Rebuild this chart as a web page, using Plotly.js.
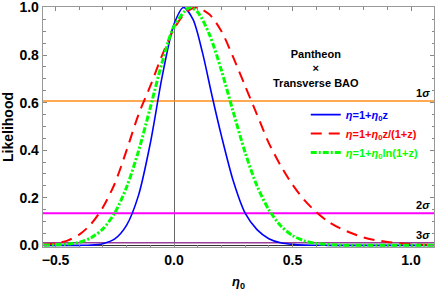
<!DOCTYPE html>
<html>
<head>
<meta charset="utf-8">
<script src="https://cdn.plot.ly/plotly-3.0.1.min.js"></script>
<style>html,body{margin:0;padding:0;background:#fff;}#chart{width:436px;height:291px;}</style>
</head>
<body>
<div id="chart"></div>
<script>
// eta_0 sample positions and likelihood values
var etaBlue = [-0.55,-0.40,-0.35,-0.30,-0.25,-0.20,-0.15,-0.10,-0.05,0.00,0.04,0.08,0.12,0.16,0.20,0.25,0.30,0.35,0.40,0.45,0.50,0.55,0.65,0.80,1.10];
var likBlue = [0.000,0.000,0.001,0.007,0.027,0.085,0.21,0.43,0.71,0.93,1.00,0.95,0.81,0.63,0.46,0.27,0.135,0.066,0.028,0.011,0.004,0.001,0.000,0.000,0.000];

var etaRed = [-0.55,-0.50,-0.45,-0.40,-0.35,-0.30,-0.25,-0.20,-0.15,-0.10,-0.05,0.00,0.05,0.095,0.15,0.20,0.25,0.30,0.35,0.40,0.45,0.50,0.55,0.60,0.65,0.70,0.80,0.90,1.00,1.10];
var likRed = [0.003,0.008,0.020,0.045,0.090,0.160,0.26,0.40,0.55,0.67,0.80,0.91,0.98,1.00,0.97,0.90,0.79,0.67,0.55,0.43,0.335,0.255,0.19,0.14,0.10,0.072,0.033,0.014,0.005,0.002];

var etaGreen = [-0.55,-0.50,-0.45,-0.40,-0.35,-0.30,-0.25,-0.20,-0.15,-0.10,-0.05,0.00,0.065,0.10,0.15,0.20,0.25,0.30,0.35,0.40,0.45,0.50,0.55,0.60,0.70,0.80,0.90,1.10];
var likGreen = [0.0005,0.002,0.005,0.013,0.032,0.069,0.137,0.245,0.396,0.58,0.77,0.92,1.00,0.98,0.885,0.735,0.56,0.39,0.25,0.15,0.082,0.041,0.019,0.008,0.001,0.000,0.000,0.000];

var seriesNames = ['<i>η</i>=1+<i>η</i><sub>0</sub>z', '<i>η</i>=1+<i>η</i><sub>0</sub>z/(1+z)', '<i>η</i>=1+<i>η</i><sub>0</sub>ln(1+z)'];

// confidence levels (likelihood ratio exp(-n^2/2))
var sigmaLevels = [0.6065, 0.1353, 0.0111];
var sigmaLabels = ['1<i>σ</i>', '2<i>σ</i>', '3<i>σ</i>'];
var etaSpan = [-0.6, 1.15];

var xTickVals = [-0.5, 0.0, 0.5, 1.0];
var xTickText = ['−0.5', '0.0', '0.5', '1.0'];
var yTickVals = [0.0, 0.2, 0.4, 0.6, 0.8, 1.0];
var yTickText = ['0.0', '0.2', '0.4', '0.6', '0.8', '1.0'];

var FONT = 'Liberation Sans, Arial, sans-serif';
var colBlue = '#0000ff', colRed = '#ff0000', colGreen = '#00ff00';
var sigmaColors = ['#ff8c1a', '#ff00ff', '#9b3d9b'];

var traces = [];
sigmaLevels.forEach(function (lv, i) {
  traces.push({x: etaSpan, y: [lv, lv], mode: 'lines', showlegend: false, hoverinfo: 'skip',
    line: {color: sigmaColors[i], width: i === 1 ? 2 : 1.6}});
});
traces.push({x: etaBlue, y: likBlue, mode: 'lines', name: '<span style="color:' + colBlue + '">' + seriesNames[0] + '</span>',
  line: {color: colBlue, width: 1.6, shape: 'spline', smoothing: 0.8}});
traces.push({x: etaRed, y: likRed, mode: 'lines', name: '<span style="color:' + colRed + '">' + seriesNames[1] + '</span>',
  line: {color: colRed, width: 2, dash: '11px,7px', shape: 'spline', smoothing: 0.8}});
traces.push({x: etaGreen, y: likGreen, mode: 'lines', name: '<span style="color:' + colGreen + '">' + seriesNames[2] + '</span>',
  line: {color: colGreen, width: 3, dash: '6px,2px,2px,2px', shape: 'spline', smoothing: 0.8}});

var annotations = [{
  xref: 'paper', yref: 'paper', x: 0.698, y: 0.836, xanchor: 'center', yanchor: 'top', showarrow: false,
  text: '<b>Pantheon<br>×<br>Transverse BAO</b>', align: 'center',
  font: {family: FONT, size: 11, color: '#000'}
}];
sigmaLevels.forEach(function (lv, i) {
  annotations.push({xref: 'paper', yref: 'y', x: 0.995, y: lv, xanchor: 'right', yanchor: 'bottom',
    showarrow: false, text: '<b>' + sigmaLabels[i] + '</b>', yshift: 0,
    font: {family: FONT, size: 11, color: '#000'}});
});

var layout = {
  width: 436, height: 291,
  margin: {l: 43, r: 2, t: 7, b: 44},
  paper_bgcolor: '#fff', plot_bgcolor: '#fff',
  font: {family: FONT, color: '#000'},
  showlegend: true,
  legend: {x: 0.672, y: 0.612, xanchor: 'left', yanchor: 'top', bgcolor: 'rgba(0,0,0,0)',
    font: {family: FONT, size: 11, weight: 'bold'}, tracegroupgap: 0, itemwidth: 30},
  xaxis: {
    range: [-0.553, 1.097], tickvals: xTickVals, ticktext: xTickText,
    ticks: 'inside', ticklen: 4, tickcolor: '#888', tickwidth: 1,
    minor: {ticks: 'inside', dtick: 0.1, ticklen: 2.5, tickcolor: '#888'},
    showline: true, linecolor: '#999', linewidth: 1.3, mirror: 'allticks',
    showgrid: false, zeroline: true, zerolinecolor: '#666', zerolinewidth: 1,
    tickfont: {family: FONT, size: 14, weight: 'bold'}, ticklabeloverflow: 'allow',
    title: {text: '<b><i>η</i><sub>0</sub></b>', font: {family: FONT, size: 13}, standoff: 10}
  },
  yaxis: {
    range: [-0.007, 1.002], tickvals: yTickVals, ticktext: yTickText,
    ticks: 'inside', ticklen: 4, tickcolor: '#888', tickwidth: 1,
    minor: {ticks: 'inside', dtick: 0.05, ticklen: 2.5, tickcolor: '#888'},
    showline: true, linecolor: '#999', linewidth: 1.3, mirror: 'allticks',
    showgrid: false, zeroline: true, zerolinecolor: '#333', zerolinewidth: 1.2,
    tickfont: {family: FONT, size: 14, weight: 'bold'}, ticklabeloverflow: 'allow', ticklabelshift: -2.5,
    title: {text: '<b>Likelihood</b>', font: {family: FONT, size: 14}, standoff: 2}
  },
  annotations: annotations
};

Plotly.newPlot('chart', traces, layout, {displayModeBar: false, staticPlot: true});
</script>
</body>
</html>
